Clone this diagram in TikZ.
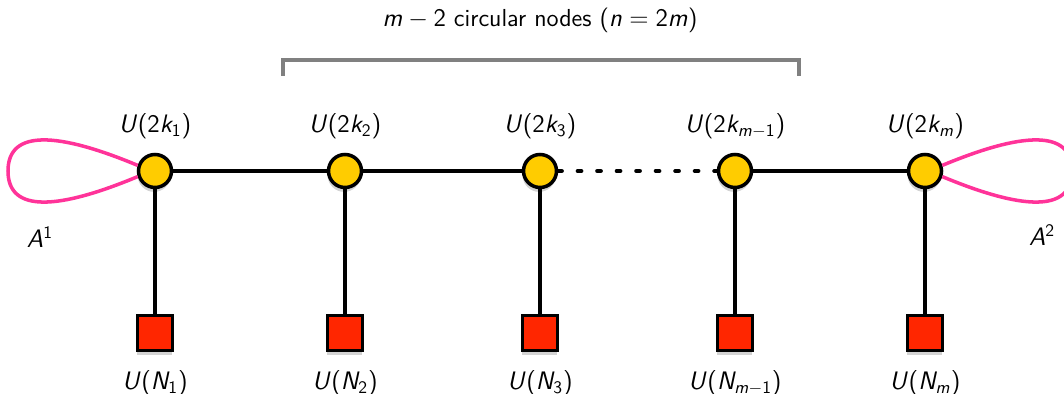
\documentclass[tikz,border=0pt]{standalone}
\usetikzlibrary{shadows}
\definecolor{quivyellow}{HTML}{FFCC00}
\definecolor{quivred}{HTML}{FF2600}
\definecolor{quivpink}{HTML}{FF3399}
\definecolor{quivgrey}{HTML}{808080}
% sans serif maths, as on slides
\SetSymbolFont{operators}{normal}{OT1}{cmss}{m}{n}
\SetSymbolFont{letters}{normal}{OT1}{cmss}{m}{sl}

\begin{document}
\sffamily
\begin{tikzpicture}[x=0.02cm,y=-0.02cm,
  gauge/.style={circle, draw=black, line width=2pt, fill=quivyellow, minimum size=0.66cm, inner sep=0pt,
    drop shadow={opacity=0.35, shadow xshift=-0.5pt, shadow yshift=-2.5pt}},
  flavour/.style={rectangle, draw=black, line width=2pt, fill=quivred, minimum size=0.7cm, inner sep=0pt,
    drop shadow={opacity=0.35, shadow xshift=-0.5pt, shadow yshift=-2.5pt}},
  lbl/.style={font=\fontsize{14}{16}\selectfont},
  edge/.style={line width=2.1pt},
  loopline/.style={quivpink, line width=2pt}]
\useasboundingbox (0,0) rectangle (1064,394);
% gauge and flavour nodes
\foreach \i/\x/\up/\dn in {
  1/155/{2k_1}/{N_1},
  2/345/{2k_2}/{N_2},
  3/540/{2k_3}/{N_3},
  4/735/{2k_{m-1}}/{N_{m-1}},
  5/925/{2k_m}/{N_m}}
{
  \node[flavour] (f\i) at (\x,333) {};
  \node[gauge] (c\i) at (\x,171) {};
  \node[lbl] (cl\i) at (\x,126) {$U(\up)$};
  \node[lbl] (fl\i) at (\x,383) {$U(\dn)$};
  \draw[edge] (c\i) -- (f\i);
}
\draw[edge] (c1) -- (c2);
\draw[edge] (c2) -- (c3);
\draw[edge] (c4) -- (c5);
\draw[line width=2.4pt, line cap=round, dash pattern=on 2pt off 0.32cm] (c3) -- (c4);
% adjoint loops
\draw[loopline] (c1.162) .. controls (60,133) and (8,128) .. (8,171) .. controls (8,214) and (60,209) .. (c1.198);
\draw[loopline] (c5.18) .. controls (1020,133) and (1072,128) .. (1072,171) .. controls (1072,214) and (1020,209) .. (c5.-18);
\node[lbl] (a1) at (40,237) {$A^1$};
\node[lbl] (a2) at (1042,235) {$A^2$};
% bracket over the middle nodes
\coordinate (bl) at (283,76);
\coordinate (br) at (799,76);
\draw[quivgrey, line width=1.8pt] (bl) -- ++(0,-16) -| (br);
\node[lbl] (title) at (540,20) {$m-2$ circular nodes ($n=2m$)};
\end{tikzpicture}
\end{document}
